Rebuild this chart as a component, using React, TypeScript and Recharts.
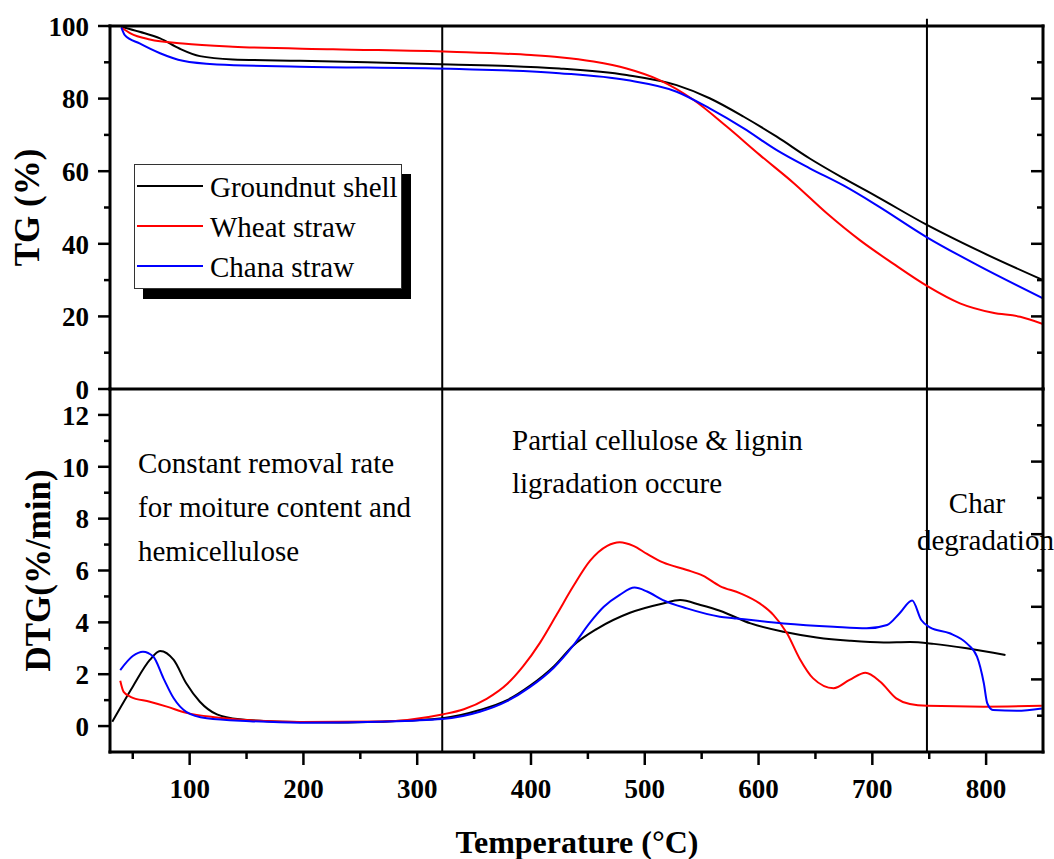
import React from 'react';
import { LineChart, Line, XAxis, YAxis, ReferenceLine, Legend } from 'recharts';

const FONT = '"Liberation Serif", "Times New Roman", Times, serif';

// TG (%)
const tgGroundnutTemp = [40, 56, 74, 91, 109, 138, 197, 256, 329, 380, 425, 484, 528, 557, 587, 616, 645, 675, 704, 748, 792, 850];
const tgGroundnutMass = [99.8, 98.4, 96.6, 93.8, 91.7, 90.8, 90.4, 90.0, 89.4, 89.0, 88.3, 86.5, 83.7, 80.1, 75.0, 69.5, 63.5, 58.0, 53.0, 45.2, 38.3, 30.0];

const tgWheatTemp = [40, 48, 65, 94, 138, 226, 329, 400, 425, 455, 484, 513, 543, 572, 601, 631, 660, 689, 718, 748, 777, 806, 830, 850];
const tgWheatMass = [99.6, 98.0, 96.3, 95.2, 94.3, 93.6, 92.9, 92.0, 91.4, 90.2, 88.3, 85.1, 79.6, 72.3, 64.5, 56.7, 48.4, 41.0, 34.6, 28.4, 23.6, 21.0, 19.9, 17.9];

const tgChanaTemp = [40, 43, 56, 74, 94, 124, 197, 329, 425, 484, 528, 557, 587, 616, 645, 675, 704, 748, 792, 850];
const tgChanaMass = [99.6, 97.5, 95.2, 92.5, 90.4, 89.4, 88.8, 88.2, 87.0, 85.1, 81.9, 77.3, 71.8, 65.8, 60.8, 56.0, 50.6, 41.8, 34.2, 25.0];

// DTG (%/min)
const dtgGroundnutTemp = [32, 50, 65, 74, 86, 97, 109, 124, 144, 182, 232, 267, 322, 355, 379, 399, 420, 437, 458, 487, 516, 531, 549, 566, 593, 622, 651, 680, 710, 733, 754, 783, 817];
const dtgGroundnutRate = [0.17, 1.52, 2.55, 2.9, 2.55, 1.65, 0.94, 0.45, 0.26, 0.17, 0.14, 0.17, 0.3, 0.62, 1.0, 1.55, 2.3, 3.1, 3.75, 4.37, 4.73, 4.86, 4.67, 4.45, 3.96, 3.64, 3.42, 3.29, 3.22, 3.24, 3.17, 3.0, 2.74];

const dtgWheatTemp = [39, 42, 48, 65, 80, 97, 124, 153, 197, 267, 322, 341, 361, 379, 393, 408, 423, 437, 452, 467, 478, 490, 502, 516, 537, 551, 566, 584, 601, 613, 625, 636, 648, 666, 680, 694, 707, 721, 733, 748, 798, 849];
const dtgWheatRate = [1.75, 1.32, 1.13, 0.94, 0.75, 0.51, 0.33, 0.22, 0.16, 0.18, 0.45, 0.65, 1.05, 1.62, 2.3, 3.22, 4.33, 5.38, 6.38, 6.95, 7.09, 6.95, 6.64, 6.31, 6.02, 5.8, 5.4, 5.12, 4.73, 4.29, 3.58, 2.61, 1.84, 1.46, 1.78, 2.06, 1.71, 1.07, 0.85, 0.78, 0.75, 0.78];

const dtgChanaTemp = [39, 50, 59, 68, 77, 86, 97, 115, 153, 197, 267, 322, 355, 379, 399, 420, 437, 452, 464, 478, 491, 502, 516, 537, 566, 578, 622, 666, 695, 713, 724, 735, 743, 751, 768, 783, 792, 798, 801, 806, 827, 849];
const dtgChanaRate = [2.16, 2.70, 2.87, 2.68, 1.84, 1.07, 0.55, 0.30, 0.19, 0.13, 0.17, 0.27, 0.55, 0.96, 1.5, 2.25, 3.1, 4.0, 4.6, 5.06, 5.34, 5.19, 4.86, 4.54, 4.22, 4.16, 3.96, 3.83, 3.77, 3.9, 4.35, 4.84, 4.09, 3.8, 3.58, 3.19, 2.68, 1.65, 0.88, 0.62, 0.59, 0.68];

// axes
const tempDomain = [30, 850];
const tempTicks = [100, 200, 300, 400, 500, 600, 700, 800];
const tempMinorTicks = [50, 150, 250, 350, 450, 550, 650, 750];
const tgDomain = [0, 100];
const tgTicks = [0, 20, 40, 60, 80, 100];
const tgMinorTicks = [10, 30, 50, 70, 90];
const dtgDomain = [-1, 13];
const dtgTicks = [0, 2, 4, 6, 8, 10, 12];
const dtgMinorTicks = [1, 3, 5, 7, 9, 11];
// unlabelled frame axes (Origin leaves these on their own 0-10 scale)
const frameDomain = [0, 10];
const frameTicks = [1, 2, 3, 4, 5, 6, 7, 8, 9];
const frameMajorTicks = [2, 4, 6, 8];
const seamDomain = [0.6, 14];
const seamTicks = [1, 2, 3, 4, 5, 6, 7, 8, 9, 10, 11, 12, 13];
const seamMajorTicks = [2, 4, 6, 8, 10, 12];
const stageBounds = [322, 748];

type Pt = { t: number; v: number };
const toPoints = (temps: number[], vals: number[]): Pt[] => temps.map((t, i) => ({ t, v: vals[i] }));

const series = [
  { name: 'Groundnut shell', color: '#000000', tg: toPoints(tgGroundnutTemp, tgGroundnutMass), dtg: toPoints(dtgGroundnutTemp, dtgGroundnutRate) },
  { name: 'Wheat straw', color: '#ff0000', tg: toPoints(tgWheatTemp, tgWheatMass), dtg: toPoints(dtgWheatTemp, dtgWheatRate) },
  { name: 'Chana straw', color: '#0000ff', tg: toPoints(tgChanaTemp, tgChanaMass), dtg: toPoints(dtgChanaTemp, dtgChanaRate) },
];

const axisLine = { stroke: '#000', strokeWidth: 3, strokeLinecap: 'square' as const };
const labelFont = { fill: '#000', fontSize: 27, fontWeight: 700, fontFamily: FONT };

type Side = 'left' | 'right' | 'top' | 'bottom';
const tickDir: Record<Side, [number, number]> = { left: [-1, 0], right: [-1, 0], top: [0, 1], bottom: [0, 1] };

// tick mark + optional label, drawn from the axis line position recharts hands us
function frameTick(side: Side, majors: number[], longLen: number, shortLen: number, labelled = false) {
  return (props: any) => {
    const { x, y, payload } = props;
    const major = majors.includes(payload.value);
    const len = major ? longLen : shortLen;
    const [dx, dy] = tickDir[side];
    let label = null;
    if (labelled && major) {
      label = side === 'left'
        ? <text x={x - len - 9} y={y} dy="0.36em" textAnchor="end" {...labelFont}>{payload.value}</text>
        : <text x={x} y={y + len + 14} dy="0.71em" textAnchor="middle" {...labelFont}>{payload.value}</text>;
    }
    return (
      <g>
        <line x1={x} y1={y} x2={x + dx * len} y2={y + dy * len} stroke="#000" strokeWidth={2.5} />
        {label}
      </g>
    );
  };
}

const LegendBox = ({ payload }: any) => {
  const items = series.map(
    (s) => (payload || []).find((p: any) => p.value === s.name) || { value: s.name, color: s.color }
  );
  return (
    <div style={{ width: 266, height: 122, paddingTop: 1, border: '1px solid #333', background: '#fff', boxShadow: '9px 10px 0 #000' }}>
      {items.map((item: any) => (
        <div key={item.value} style={{ display: 'flex', alignItems: 'center', height: 40 }}>
          <svg width={66} height={4} style={{ marginLeft: 2 }}>
            <line x1={0} y1={2} x2={66} y2={2} stroke={item.color} strokeWidth={2} />
          </svg>
          <span style={{ marginLeft: 7, fontFamily: FONT, fontSize: 29, lineHeight: '40px', color: '#000', position: 'relative', top: 1 }}>
            {item.value}
          </span>
        </div>
      ))}
    </div>
  );
};

const noteStyle = { fontFamily: FONT, fontSize: 29, fill: '#000' };

export default function App() {
  return (
    <div style={{ position: 'absolute', left: 0, top: 0, width: 1054, height: 859, background: '#fff', overflow: 'hidden' }}>
      {/* TG panel */}
      <div style={{ position: 'absolute', left: 0, top: 0 }}>
        <LineChart width={1054} height={420} margin={{ top: 26, right: 11, bottom: 31, left: 109 }}>
          <XAxis xAxisId="x" type="number" dataKey="t" domain={tempDomain} allowDataOverflow hide />
          <XAxis xAxisId="top" orientation="top" mirror type="number" domain={frameDomain} allowDataOverflow
            ticks={frameTicks} interval={0} height={1} tickSize={0} tickMargin={0} tickLine={false} axisLine={axisLine}
            tick={frameTick('top', frameMajorTicks, 12, 6)} />
          <YAxis yAxisId="y" type="number" domain={tgDomain} allowDataOverflow
            ticks={[...tgTicks, ...tgMinorTicks]} interval={0} width={1} tickSize={0} tickMargin={0} tickLine={false} axisLine={axisLine}
            tick={frameTick('left', tgTicks, 12, 6, true)} />
          <YAxis yAxisId="r" orientation="right" mirror type="number" domain={tgDomain} allowDataOverflow
            ticks={[...tgTicks.slice(1, -1), ...tgMinorTicks]} interval={0} width={1} tickSize={0} tickMargin={0} tickLine={false} axisLine={axisLine}
            tick={frameTick('right', tgTicks, 12, 6)} />
          <ReferenceLine xAxisId="x" yAxisId="y" x={stageBounds[0]} stroke="#000" strokeWidth={2} />
          <ReferenceLine xAxisId="x" yAxisId="y" segment={[{ x: stageBounds[1], y: tgDomain[0] }, { x: stageBounds[1], y: 102 }]}
            ifOverflow="visible" stroke="#000" strokeWidth={2} />
          {series.map((s) => (
            <Line key={s.name} xAxisId="x" yAxisId="y" data={s.tg} dataKey="v" name={s.name} type="monotone"
              stroke={s.color} strokeWidth={2} dot={false} activeDot={false} isAnimationActive={false} />
          ))}
          <Legend layout="horizontal" verticalAlign="middle" align="center" content={LegendBox}
            wrapperStyle={{ left: 134, top: 164, width: 'auto' }} />
        </LineChart>
      </div>

      {/* DTG panel */}
      <div style={{ position: 'absolute', left: 0, top: 369 }}>
        <LineChart width={1054} height={440} margin={{ top: 20, right: 11, bottom: 56, left: 109 }}>
          <XAxis xAxisId="x" type="number" dataKey="t" domain={tempDomain} allowDataOverflow
            ticks={[...tempTicks, ...tempMinorTicks]} interval={0} height={1} tickSize={0} tickMargin={0} tickLine={false} axisLine={axisLine}
            tick={frameTick('bottom', tempTicks, 13, 7, true)} />
          <XAxis xAxisId="seam" orientation="top" mirror type="number" domain={seamDomain} allowDataOverflow
            ticks={seamTicks} interval={0} height={1} tickSize={0} tickMargin={0} tickLine={false} axisLine={axisLine}
            tick={frameTick('top', seamMajorTicks, 13, 6)} />
          <YAxis yAxisId="y" type="number" domain={dtgDomain} allowDataOverflow
            ticks={[...dtgTicks, ...dtgMinorTicks]} interval={0} width={1} tickSize={0} tickMargin={0} tickLine={false} axisLine={axisLine}
            tick={frameTick('left', dtgTicks, 12, 6, true)} />
          <YAxis yAxisId="r" orientation="right" mirror type="number" domain={frameDomain} allowDataOverflow
            ticks={frameTicks} interval={0} width={1} tickSize={0} tickMargin={0} tickLine={false} axisLine={axisLine}
            tick={frameTick('right', frameMajorTicks, 12, 6)} />
          {stageBounds.map((b) => (
            <ReferenceLine key={b} xAxisId="x" yAxisId="y" x={b} stroke="#000" strokeWidth={2} />
          ))}
          {series.map((s) => (
            <Line key={s.name} xAxisId="x" yAxisId="y" data={s.dtg} dataKey="v" name={s.name} type="monotone"
              stroke={s.color} strokeWidth={2} dot={false} activeDot={false} isAnimationActive={false} />
          ))}
        </LineChart>
      </div>

      {/* titles and stage notes */}
      <svg width={1054} height={859} style={{ position: 'absolute', left: 0, top: 0, pointerEvents: 'none' }}>
        <text transform="translate(27,207.5) rotate(-90)" textAnchor="middle" dominantBaseline="central"
          fontFamily={FONT} fontSize={35} fontWeight={700} fill="#000">TG (%)</text>
        <text transform="translate(38,570.5) rotate(-90)" textAnchor="middle" dominantBaseline="central"
          fontFamily={FONT} fontSize={35} fontWeight={700} fill="#000">DTG(%/min)</text>
        <text x={577} y={853} textAnchor="middle" fontFamily={FONT} fontSize={32} fontWeight={700} fill="#000">Temperature (°C)</text>

        <text x={138} y={473} {...noteStyle}>Constant removal rate</text>
        <text x={138} y={517} {...noteStyle}>for moiture content and</text>
        <text x={138} y={561} {...noteStyle}>hemicellulose</text>
        <text x={512} y={450} {...noteStyle}>Partial cellulose &amp; lignin</text>
        <text x={512} y={493} {...noteStyle}>ligradation occure</text>
        <text x={977} y={513} textAnchor="middle" {...noteStyle}>Char</text>
        <text x={917} y={550} {...noteStyle}>degradation</text>
      </svg>
    </div>
  );
}
